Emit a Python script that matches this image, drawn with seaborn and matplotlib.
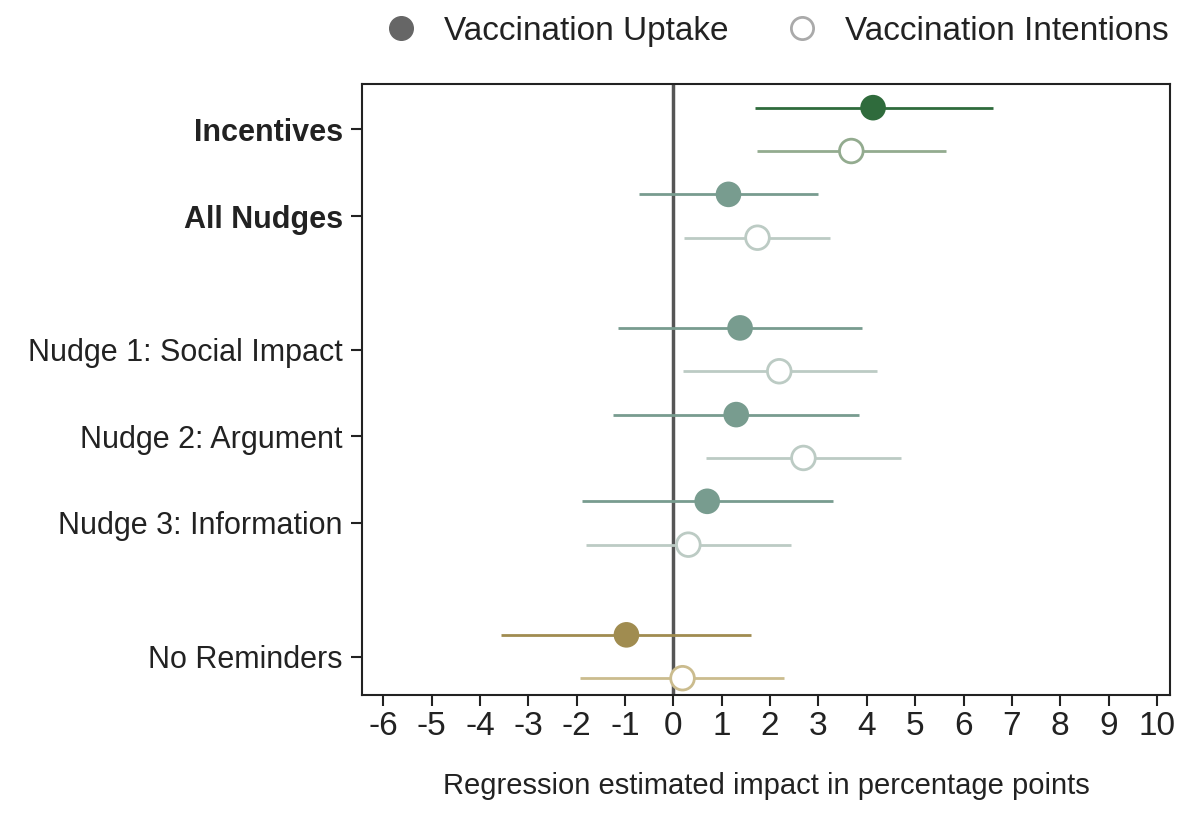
import numpy as np
import pandas as pd
import matplotlib
matplotlib.use("Agg")
import matplotlib.pyplot as plt
from matplotlib.lines import Line2D
import seaborn as sns

# ── Data ────────────────────────────────────────────────────────────────
categories = ["Incentives", "All Nudges", "Nudge 1: Social Impact",
              "Nudge 2: Argument", "Nudge 3: Information", "No Reminders"]
bold_cats = ["Incentives", "All Nudges"]

uptake_est = [4.13, 1.14, 1.38, 1.30, 0.70, -0.97]
uptake_lo = [1.69, -0.72, -1.14, -1.24, -1.88, -3.57]
uptake_hi = [6.61, 3.00, 3.90, 3.84, 3.31, 1.61]

intent_est = [3.68, 1.74, 2.19, 2.69, 0.31, 0.19]
intent_lo = [1.74, 0.23, 0.19, 0.68, -1.80, -1.94]
intent_hi = [5.64, 3.24, 4.21, 4.71, 2.44, 2.29]

uptake_colors = ["#2f6b3c", "#789c8f", "#789c8f", "#789c8f", "#789c8f", "#a08c50"]
intent_colors = ["#93ab8f", "#bccbc4", "#bccbc4", "#bccbc4", "#bccbc4", "#cbbc8e"]

xticks = list(range(-6, 11))

# ── Layout (row centres with gaps between groups) ─────────────────────
group_of = [0, 0, 1, 1, 1, 2]
centers = np.array([i * 1.0 + g * 0.54 for i, g in enumerate(group_of)])
off = 0.25

df = pd.DataFrame({"cat": categories, "y": centers,
                   "u": uptake_est, "i": intent_est})

sns.set_style("white")
plt.rcParams["font.family"] = ["Liberation Sans", "DejaVu Sans"]

fig = plt.figure(figsize=(12, 8.26), dpi=100)
ax = fig.add_axes([0.302, 0.159, 0.673, 0.739])

ax.axvline(0, color="#555555", lw=2.5, zorder=1)
for k in range(len(categories)):
    yu, yi = centers[k] - off, centers[k] + off
    ax.hlines(yu, uptake_lo[k], uptake_hi[k], color=uptake_colors[k], lw=2, zorder=2)
    ax.hlines(yi, intent_lo[k], intent_hi[k], color=intent_colors[k], lw=2, zorder=2)

sns.scatterplot(x=df["u"], y=df["y"] - off, hue=df["cat"], palette=uptake_colors,
                s=340, edgecolor="none", legend=False, ax=ax, zorder=3)
ax.scatter(df["i"], df["y"] + off, s=290, facecolors="white",
           edgecolors=intent_colors, linewidths=2, zorder=3)

ax.set_xlim(-6.43, 10.27)
ax.set_ylim(centers[-1] + 0.44, centers[0] - 0.52)
ax.set_xticks(xticks)
ax.set_xticklabels([str(t) for t in xticks], fontsize=24, color="#222222")
ax.set_yticks(centers)
ax.set_yticklabels(categories, fontsize=22, color="#222222")
for lab in ax.get_yticklabels():
    if lab.get_text() in bold_cats:
        lab.set_fontweight("bold")
ax.tick_params(axis="both", length=8, width=1.5, color="#222222", direction="out",
               bottom=True, left=True)
ax.tick_params(axis="y", pad=6)
for s in ax.spines.values():
    s.set_color("#222222")
    s.set_linewidth(1.5)
ax.set_xlabel("Regression estimated impact in percentage points", fontsize=21,
              color="#222222", labelpad=22)
ax.set_ylabel("")

handles = [
    Line2D([], [], marker="o", ls="none", markersize=17, markerfacecolor="#666666",
           markeredgecolor="#666666", label="Vaccination Uptake"),
    Line2D([], [], marker="o", ls="none", markersize=16, markerfacecolor="white",
           markeredgecolor="#aaaaaa", markeredgewidth=2, label="Vaccination Intentions"),
]
fig.legend(handles=handles, loc="center", bbox_to_anchor=(0.64, 0.962), ncol=2,
           frameon=False, fontsize=24, handletextpad=0.3, columnspacing=1.2,
           labelcolor="#222222")

fig.savefig("out.png", dpi=100)
